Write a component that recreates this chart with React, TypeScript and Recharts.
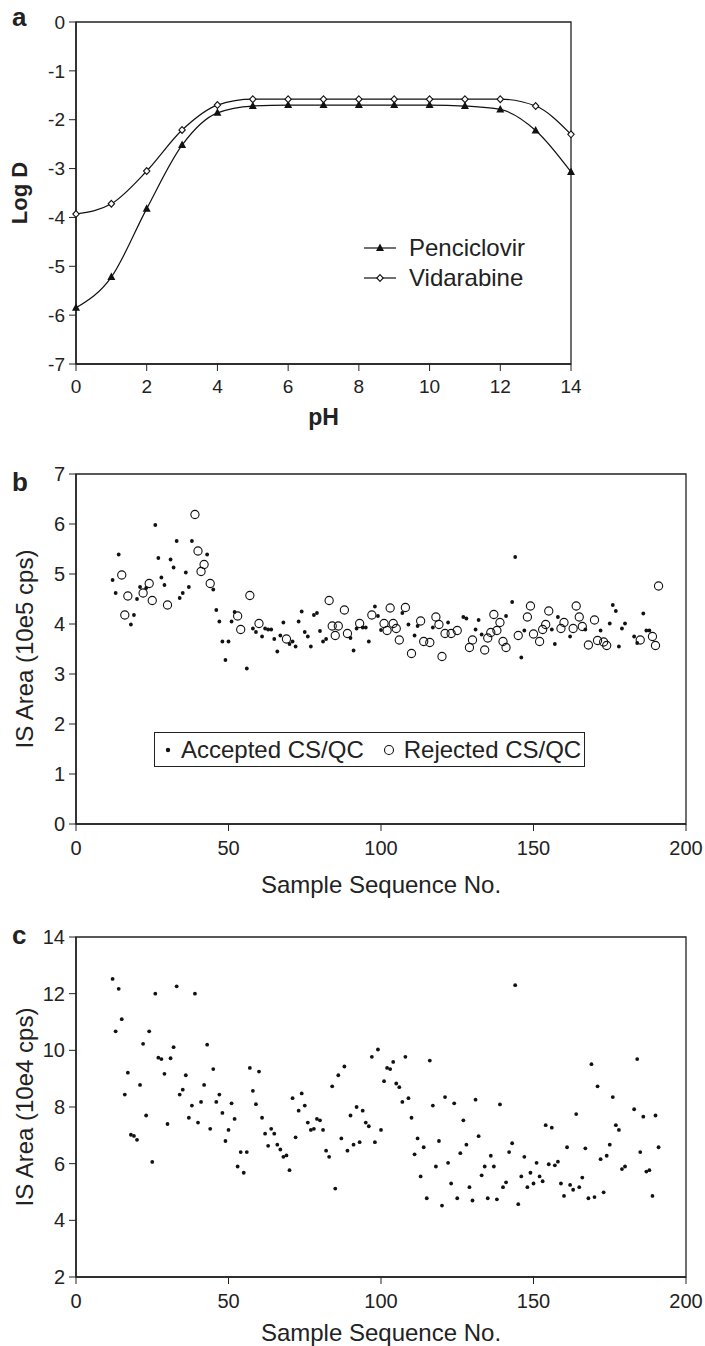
import React from "react"
import {
  Legend,
  Line,
  LineChart,
  ReferenceArea,
  Scatter,
  ScatterChart,
  XAxis,
  YAxis,
} from "recharts"

const FONT = '"Liberation Sans", Arial, Helvetica, sans-serif'
const INK = "#222"

// panel a: log D vs pH
const phValues = [0, 1, 2, 3, 4, 5, 6, 7, 8, 9, 10, 11, 12, 13, 14]
const penciclovir = [-5.85, -5.22, -3.82, -2.52, -1.86, -1.72, -1.7, -1.7, -1.7, -1.7, -1.7, -1.72, -1.79, -2.22, -3.07]
const vidarabine = [-3.93, -3.72, -3.05, -2.21, -1.7, -1.58, -1.58, -1.58, -1.58, -1.58, -1.58, -1.58, -1.58, -1.72, -2.3]
const phTicks = [0, 2, 4, 6, 8, 10, 12, 14]
const logDTicks = [-7, -6, -5, -4, -3, -2, -1, 0]

// panel b: IS area (10e5 cps), accepted vs rejected
const acceptedSeqB = [12, 13, 14, 18, 19, 20, 21, 23, 26, 27, 28, 29, 31, 32, 33, 34, 35, 36, 37, 38, 43, 45, 46, 47, 48, 49, 50, 51, 52, 56, 58, 59, 61, 62, 63, 64, 65, 66, 67, 68, 70, 71, 72, 73, 74, 75, 76, 77, 78, 79, 80, 81, 82, 90, 91, 92, 94, 95, 96, 98, 99, 100, 107, 109, 111, 112, 117, 122, 127, 128, 131, 132, 133, 141, 143, 144, 146, 147, 156, 157, 158, 162, 167, 172, 175, 176, 177, 178, 179, 180, 183, 184, 186, 187, 188]
const acceptedAreaB = [4.88, 4.62, 5.39, 3.99, 4.18, 4.5, 4.74, 4.72, 5.98, 5.32, 4.93, 4.78, 5.29, 5.13, 5.66, 4.52, 4.62, 5.03, 4.74, 5.66, 5.39, 4.69, 4.28, 4.05, 3.65, 3.28, 3.65, 4.05, 4.24, 3.11, 3.91, 3.84, 3.75, 3.91, 3.89, 3.89, 3.7, 3.45, 3.77, 4.03, 3.6, 3.65, 3.55, 4.05, 4.25, 3.84, 3.75, 3.55, 4.18, 4.22, 3.86, 3.65, 3.7, 3.72, 3.47, 3.91, 3.93, 3.93, 3.65, 4.35, 4.16, 3.88, 4.22, 3.99, 3.77, 3.96, 3.93, 4.03, 4.14, 4.11, 3.89, 4.08, 3.79, 4.16, 4.44, 5.34, 3.33, 3.87, 3.89, 3.6, 4.14, 3.75, 3.89, 3.87, 4.01, 4.38, 4.26, 3.55, 3.91, 4.01, 3.75, 3.62, 4.21, 3.87, 3.87]
const rejectedSeqB = [15, 16, 17, 22, 24, 25, 30, 39, 40, 41, 42, 44, 53, 54, 57, 60, 69, 83, 84, 85, 86, 88, 89, 93, 97, 101, 102, 103, 104, 105, 106, 108, 110, 113, 114, 116, 118, 119, 120, 121, 123, 125, 129, 130, 134, 135, 136, 137, 138, 139, 140, 141, 145, 148, 149, 150, 152, 153, 154, 155, 159, 160, 163, 164, 165, 166, 168, 170, 171, 173, 174, 185, 189, 190, 191]
const rejectedAreaB = [4.98, 4.18, 4.56, 4.62, 4.81, 4.47, 4.38, 6.19, 5.46, 5.05, 5.19, 4.81, 4.16, 3.89, 4.57, 4.01, 3.7, 4.47, 3.96, 3.77, 3.96, 4.28, 3.81, 4.01, 4.18, 4.01, 3.87, 4.32, 4.01, 3.91, 3.68, 4.33, 3.41, 4.06, 3.65, 3.63, 4.14, 3.99, 3.35, 3.81, 3.81, 3.87, 3.53, 3.68, 3.48, 3.72, 3.83, 4.19, 3.87, 4.03, 3.65, 3.53, 3.77, 4.14, 4.36, 3.8, 3.65, 3.89, 3.99, 4.26, 3.91, 4.03, 3.91, 4.36, 4.14, 3.95, 3.58, 4.08, 3.67, 3.64, 3.57, 3.68, 3.75, 3.57, 4.76]
const areaTicksB = [0, 1, 2, 3, 4, 5, 6, 7]

// panel c: IS area (10e4 cps)
const seqC = [12, 13, 14, 15, 16, 17, 18, 19, 20, 21, 22, 23, 24, 25, 26, 27, 28, 29, 30, 31, 32, 33, 34, 35, 36, 37, 38, 39, 40, 41, 42, 43, 44, 45, 46, 47, 48, 49, 50, 51, 52, 53, 54, 55, 56, 57, 58, 59, 60, 61, 62, 63, 64, 65, 66, 67, 68, 69, 70, 71, 72, 73, 74, 75, 76, 77, 78, 79, 80, 81, 82, 83, 84, 85, 86, 87, 88, 89, 90, 91, 92, 93, 94, 95, 96, 97, 98, 99, 100, 101, 102, 103, 104, 105, 106, 107, 108, 109, 110, 111, 112, 113, 114, 115, 116, 117, 118, 119, 120, 121, 122, 123, 124, 125, 126, 127, 128, 129, 130, 131, 132, 133, 134, 135, 136, 137, 138, 139, 140, 141, 142, 143, 144, 145, 146, 147, 148, 149, 150, 151, 152, 153, 154, 155, 156, 157, 158, 159, 160, 161, 162, 163, 164, 165, 166, 167, 168, 169, 170, 171, 172, 173, 174, 175, 176, 177, 178, 179, 180, 183, 184, 185, 186, 187, 188, 189, 190, 191]
const areaC = [12.52, 10.67, 12.17, 11.1, 8.44, 9.21, 7.02, 6.98, 6.84, 8.78, 10.23, 7.7, 10.67, 6.06, 12.0, 9.74, 9.69, 9.17, 7.4, 9.72, 10.11, 12.26, 8.44, 8.61, 9.12, 7.62, 8.05, 12.0, 7.45, 8.18, 8.78, 10.2, 7.23, 9.34, 8.18, 8.44, 7.79, 6.8, 7.19, 8.13, 7.58, 5.9, 6.41, 5.68, 6.41, 9.38, 8.57, 8.1, 9.25, 7.62, 7.06, 6.63, 7.23, 7.06, 6.67, 6.5, 6.24, 6.29, 5.77, 8.31, 6.93, 7.87, 8.48, 8.05, 7.45, 7.19, 7.23, 7.58, 7.53, 7.19, 6.46, 6.24, 8.73, 5.12, 9.12, 6.89, 9.43, 6.46, 7.7, 6.67, 8.0, 6.76, 7.87, 7.45, 7.32, 9.77, 6.76, 10.03, 7.19, 8.91, 9.38, 9.34, 9.59, 8.83, 8.7, 8.18, 9.77, 8.31, 7.62, 6.33, 6.89, 5.55, 6.58, 4.78, 9.64, 8.05, 5.9, 6.8, 4.52, 8.35, 6.03, 5.3, 8.13, 4.78, 6.37, 7.53, 6.67, 5.17, 4.7, 8.26, 6.97, 5.59, 5.9, 4.78, 6.28, 5.9, 4.74, 8.09, 5.17, 5.34, 6.41, 6.72, 12.3, 4.57, 5.55, 6.24, 5.17, 5.68, 5.3, 6.03, 5.55, 5.38, 7.36, 5.98, 7.27, 5.94, 6.07, 5.3, 4.86, 6.58, 5.25, 5.08, 7.75, 5.17, 5.51, 6.54, 4.78, 9.51, 4.82, 8.73, 6.16, 4.99, 6.28, 6.67, 8.35, 7.36, 7.19, 5.81, 5.9, 7.92, 9.69, 6.41, 7.66, 5.72, 5.77, 4.86, 7.7, 6.58]
const areaTicksC = [2, 4, 6, 8, 10, 12, 14]
const seqTicks = [0, 50, 100, 150, 200]

const phRows = phValues.map((ph, i) => ({ ph, penciclovir: penciclovir[i], vidarabine: vidarabine[i] }))
const pairs = (xs: number[], ys: number[]) => xs.map((x, i) => ({ x, y: ys[i] }))
const acceptedB = pairs(acceptedSeqB, acceptedAreaB)
const rejectedB = pairs(rejectedSeqB, rejectedAreaB)
const pointsC = pairs(seqC, areaC)

const tickStyle = { fill: INK, fontSize: 20, fontFamily: FONT }
const axisLine = { stroke: INK, strokeWidth: 1.5 }
const titleStyle = { fill: INK, fontSize: 24, fontFamily: FONT }

function Triangle({ cx, cy }: { cx: number; cy: number }) {
  return <path d={`M${cx},${cy - 4.5} L${cx + 4},${cy + 3} L${cx - 4},${cy + 3} Z`} fill="#111" />
}

function Diamond({ cx, cy }: { cx: number; cy: number }) {
  return <path d={`M${cx},${cy - 3.4} L${cx + 3.2},${cy} L${cx},${cy + 3.4} L${cx - 3.2},${cy} Z`} fill="#fff" stroke="#111" strokeWidth={1.1} />
}

function LegendA() {
  const row = (name: string, marker: React.ReactNode) => (
    <div style={{ display: "flex", alignItems: "center", height: 30 }}>
      <svg width={36} height={30}>
        <line x1={4} x2={36} y1={15} y2={15} stroke="#111" strokeWidth={1.2} />
        {marker}
      </svg>
      <span style={{ marginLeft: 13, fontSize: 24, fontFamily: FONT, color: INK, lineHeight: "30px" }}>{name}</span>
    </div>
  )
  return (
    <div>
      {row("Penciclovir", <Triangle cx={20} cy={15} />)}
      {row("Vidarabine", <Diamond cx={20} cy={15} />)}
    </div>
  )
}

function LegendB() {
  return (
    <div
      style={{
        boxSizing: "border-box",
        width: 431,
        height: 35,
        border: `1.3px solid ${INK}`,
        display: "flex",
        alignItems: "center",
        fontSize: 24,
        fontFamily: FONT,
        color: INK,
        background: "#fff",
        whiteSpace: "nowrap",
      }}
    >
      <svg width={26} height={20} style={{ flex: "none" }}>
        <circle cx={13} cy={10} r={2.2} fill="#111" />
      </svg>
      <span>Accepted CS/QC</span>
      <svg width={32} height={20} style={{ marginLeft: 8, flex: "none" }}>
        <circle cx={17} cy={10} r={4.5} fill="none" stroke="#111" strokeWidth={1.1} />
      </svg>
      <span>Rejected CS/QC</span>
    </div>
  )
}

function PanelA() {
  return (
    <LineChart width={705} height={440} data={phRows} margin={{ top: 22, right: 134, bottom: 10, left: 0 }}>
      <XAxis
        dataKey="ph"
        type="number"
        domain={[0, 14]}
        ticks={phTicks}
        height={66}
        tickSize={7}
        tickMargin={9}
        tick={{ ...tickStyle, fontSize: 19 }}
        axisLine={axisLine}
        tickLine={{ stroke: INK }}
        label={{ value: "pH", position: "insideBottom", offset: 5, style: { ...titleStyle, fontSize: 23, fontWeight: "bold" } }}
      />
      <YAxis
        type="number"
        domain={[-7, 0]}
        ticks={logDTicks}
        width={76}
        tickSize={7}
        tickMargin={4}
        tick={{ ...tickStyle, fontSize: 19 }}
        axisLine={axisLine}
        tickLine={{ stroke: INK }}
        label={{
          value: "Log D",
          angle: -90,
          position: "insideLeft",
          offset: 19,
          style: { ...titleStyle, fontSize: 22, fontWeight: "bold", textAnchor: "middle" },
        }}
      />
      <ReferenceArea x1={0} x2={14} y1={-7} y2={0} fill="none" stroke={INK} strokeWidth={1.3} />
      <Line
        type="monotone"
        dataKey="penciclovir"
        stroke="#111"
        strokeWidth={1.2}
        isAnimationActive={false}
        activeDot={false}
        dot={(p: any) => <Triangle key={`p${p.index}`} cx={p.cx} cy={p.cy} />}
      />
      <Line
        type="monotone"
        dataKey="vidarabine"
        stroke="#111"
        strokeWidth={1.2}
        isAnimationActive={false}
        activeDot={false}
        dot={(p: any) => <Diamond key={`v${p.index}`} cx={p.cx} cy={p.cy} />}
      />
      <Legend
        layout="vertical"
        align="center"
        verticalAlign="middle"
        wrapperStyle={{ left: 360, top: 233, width: 220 }}
        content={() => <LegendA />}
      />
    </LineChart>
  )
}

function PanelB() {
  return (
    <ScatterChart width={705} height={460} margin={{ top: 34, right: 19, bottom: 4, left: 0 }}>
      <XAxis
        dataKey="x"
        type="number"
        domain={[0, 200]}
        ticks={seqTicks}
        height={72}
        tickSize={7}
        tickMargin={10}
        tick={tickStyle}
        axisLine={axisLine}
        tickLine={{ stroke: INK }}
        label={{ value: "Sample Sequence No.", position: "insideBottom", offset: 3, style: titleStyle }}
      />
      <YAxis
        dataKey="y"
        type="number"
        domain={[0, 7]}
        ticks={areaTicksB}
        width={76}
        tickSize={7}
        tickMargin={4}
        tick={tickStyle}
        axisLine={axisLine}
        tickLine={{ stroke: INK }}
        label={{
          value: "IS Area (10e5 cps)",
          angle: -90,
          position: "insideLeft",
          offset: 24,
          style: { ...titleStyle, textAnchor: "middle" },
        }}
      />
      <ReferenceArea x1={0} x2={200} y1={0} y2={7} fill="none" stroke={INK} strokeWidth={1.3} />
      <Scatter
        data={acceptedB}
        isAnimationActive={false}
        shape={(p: any) => <circle cx={p.cx} cy={p.cy} r={1.9} fill="#111" />}
      />
      <Scatter
        data={rejectedB}
        isAnimationActive={false}
        shape={(p: any) => <circle cx={p.cx} cy={p.cy} r={4.1} fill="none" stroke="#111" strokeWidth={1.1} />}
      />
      <Legend
        layout="vertical"
        align="center"
        verticalAlign="middle"
        wrapperStyle={{ left: 154, top: 292, width: 431 }}
        content={() => <LegendB />}
      />
    </ScatterChart>
  )
}

function PanelC() {
  return (
    <ScatterChart width={705} height={446} margin={{ top: 37, right: 19, bottom: 3, left: 0 }}>
      <XAxis
        dataKey="x"
        type="number"
        domain={[0, 200]}
        ticks={seqTicks}
        height={66}
        tickSize={7}
        tickMargin={10}
        tick={tickStyle}
        axisLine={axisLine}
        tickLine={{ stroke: INK }}
        label={{ value: "Sample Sequence No.", position: "insideBottom", offset: 2, style: titleStyle }}
      />
      <YAxis
        dataKey="y"
        type="number"
        domain={[2, 14]}
        ticks={areaTicksC}
        width={76}
        tickSize={7}
        tickMargin={4}
        tick={tickStyle}
        axisLine={axisLine}
        tickLine={{ stroke: INK }}
        label={{
          value: "IS Area (10e4 cps)",
          angle: -90,
          position: "insideLeft",
          offset: 24,
          style: { ...titleStyle, textAnchor: "middle" },
        }}
      />
      <ReferenceArea x1={0} x2={200} y1={2} y2={14} fill="none" stroke={INK} strokeWidth={1.3} />
      <Scatter
        data={pointsC}
        isAnimationActive={false}
        shape={(p: any) => <circle cx={p.cx} cy={p.cy} r={1.9} fill="#111" />}
      />
    </ScatterChart>
  )
}

export default function App() {
  return (
    <div style={{ position: "absolute", left: 0, top: 0, width: 705, height: 1346, background: "#fff", overflow: "hidden" }}>
      <div style={{ position: "absolute", left: 0, top: 0 }}>
        <PanelA />
      </div>
      <div style={{ position: "absolute", left: 0, top: 440 }}>
        <PanelB />
      </div>
      <div style={{ position: "absolute", left: 0, top: 900 }}>
        <PanelC />
      </div>
      <svg width={705} height={1346} style={{ position: "absolute", left: 0, top: 0, pointerEvents: "none" }}>
        <g fontFamily={FONT} fontWeight="bold" fontSize={26} fill={INK}>
          <text x={12} y={26}>a</text>
          <text x={12} y={491}>b</text>
          <text x={12} y={944}>c</text>
        </g>
      </svg>
    </div>
  )
}
